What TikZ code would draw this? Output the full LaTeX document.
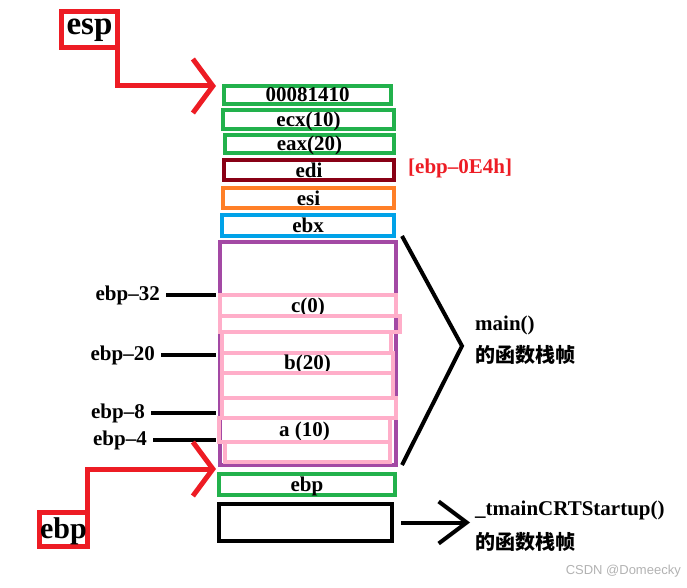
\documentclass[tikz,border=0pt]{standalone}
\usepackage{fontspec}
\setmainfont{Liberation Serif}
\newfontfamily\cjk{Noto Sans CJK SC}
\newfontfamily\wmfont{Liberation Sans}
\usetikzlibrary{arrows.meta,positioning}
\definecolor{stackred}{RGB}{237,28,36}
\definecolor{stackgreen}{RGB}{34,177,76}
\definecolor{stackmaroon}{RGB}{136,0,21}
\definecolor{stackorange}{RGB}{255,127,39}
\definecolor{stackblue}{RGB}{0,162,232}
\definecolor{stackpurple}{RGB}{163,73,164}
\definecolor{stackpink}{RGB}{255,174,201}
\tikzset{
    slot/.style={rectangle, draw=black, line width=4pt, inner sep=0pt, outer sep=0pt, font=\fontsize{21}{21}\selectfont\bfseries, text height=14pt, text depth=0pt},
    slotG/.style={slot, draw=stackgreen},
    slotM/.style={slot, draw=stackmaroon},
    slotO/.style={slot, draw=stackorange},
    slotB/.style={slot, draw=stackblue},
    slotP/.style={slot, draw=stackpurple},
    pinkrow/.style={slot, draw=stackpink},
    ptr/.style={rectangle, draw=stackred, line width=5pt, inner sep=0pt, outer sep=0pt},
    ptrarrow/.style={stackred, line width=5pt, -{Straight Barb[length=20pt, width=54pt]}},
    tick/.style={line width=4pt, black},
    bracket/.style={line width=4pt, black, line join=miter},
    sidelabel/.style={font=\fontsize{21}{21}\selectfont\bfseries, inner sep=0pt},
    zhlabel/.style={font=\cjk\bfseries\fontsize{20}{20}\selectfont, inner sep=0pt, anchor=west},
}

\begin{document}
\begin{tikzpicture}[x=1pt, y=-1pt]
    \useasboundingbox (0,0) rectangle (687,588);
    % Stack slots pushed in main()
    \node[slotG, minimum width=167, minimum height=18] (ret) at (307.5,95) {00081410};
    \node[slotG, minimum width=171, minimum height=19] (ecx) at (308.5,119.5) {ecx(10)};
    \node[slotG, minimum width=169, minimum height=18] (eax) at (309.5,144) {eax(20)};
    \node[slotM, minimum width=170, minimum height=20] (edi) at (309,170) {edi};
    \node[slotO, minimum width=171, minimum height=20] (esi) at (308.5,198) {esi};
    \node[slotB, minimum width=172, minimum height=21] (ebx) at (308,225.5) {ebx};
    \node[slotP, minimum width=176, minimum height=223] (frame) at (308,353.5) {};
    % Local variable rows
    \foreach \nm/\xa/\xb/\ya/\yb/\txt in {c/220/396/295/315.5/c(0), r2/220/400/315.5/332/{}, r3/222/391/332/353/{},
        b/222/393/353/372.5/b(20), r5/222/393/372.5/398/{}, r6/222/396/398/417.5/{},
        a/219/390/417.5/441.5/a (10), r8/225/390/441.5/461.5/{}} {
        \node[pinkrow, minimum width={\xb-\xa}, minimum height={\yb-\ya}] (row\nm) at ({(\xa+\xb)/2},{(\ya+\yb)/2}) {\txt};
    }
    \node[slotG, minimum width=176, minimum height=21] (ebpslot) at (307,484.5) {ebp};
    \node[slot, minimum width=173, minimum height=37] (crtbox) at (305.5,522.5) {};
    % Offsets from ebp
    \foreach \k/\xe/\yy in {32/160/295, 20/155/355, 8/145/413, 4/147/440} {
        \node[sidelabel, anchor=east] (off\k) at (\xe,\yy) {ebp--\k};
        \draw[tick, shorten <=6pt, shorten >=4pt] (off\k.east) -- (off\k.east -| frame.west);
    }
    \node[sidelabel, anchor=west, text=stackred] (ediaddr) at (408,168) {[ebp--0E4h]};
    % Register pointers
    \node[ptr, minimum width=56, minimum height=36, font=\fontsize{33}{33}\selectfont\bfseries, text height=15pt, text depth=4pt] (espptr) at (89.5,29.5) {esp};
    \node[ptr, minimum width=48, minimum height=34, font=\fontsize{30}{30}\selectfont\bfseries, text height=21pt, text depth=4pt] (ebpptr) at (63.5,529.5) {ebp};
    \coordinate (esptip) at (216,86);
    \coordinate (ebptip) at (216,469);
    \draw[ptrarrow] (espptr.south east) |- (esptip);
    \draw[ptrarrow] (ebpptr.north east) |- (ebptip);
    % Frames
    \coordinate (mainpt) at (462,346);
    \draw[bracket] ([xshift=8pt]ebx.south east) -- (mainpt) -- ([xshift=6pt]frame.south east);
    \node[sidelabel, anchor=west] (mainlbl) at (475,325) {main()};
    \node[zhlabel] (mainzh) at (475,355) {的函数栈帧};
    \coordinate (crttip) at (470,523);
    \draw[tick, shorten <=9pt, -{Straight Barb[length=28pt, width=42pt]}] (crtbox.east) -- (crtbox.east -| crttip);
    \node[sidelabel, anchor=west] (crtlbl) at (475,510) {\_tmainCRTStartup()};
    \node[zhlabel] (crtzh) at (475,542) {的函数栈帧};
    \node[anchor=east, inner sep=0pt, font=\wmfont\fontsize{13}{13}\selectfont, text=gray!60] (mark) at (681,571) {CSDN @Domeecky};
\end{tikzpicture}
\end{document}
